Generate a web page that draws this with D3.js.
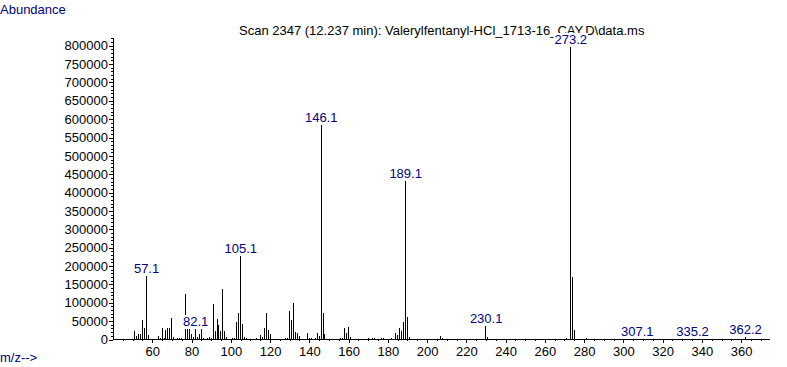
<!DOCTYPE html>
<html>
<head>
<meta charset="utf-8">
<script src="https://cdn.jsdelivr.net/npm/d3@7"></script>
<style>
  html, body { margin: 0; padding: 0; background: #fff; }
  svg { display: block; }
  text { font-family: "Liberation Sans", Arial, sans-serif; }
</style>
</head>
<body>
<svg id="chart" width="787" height="367"></svg>
<script>
// ---- data ----
const mzValues = [51,52,53,54,55,56,57,58,63,64,65,66,67,68,69,70,71,73,74,75,
  77,78,79,80,81,82,83,84,85,86,88,89,90,91,92,93,94,95,96,97,98,
  101,102,103,104,105,106,107,108,113,115,116,117,118,119,120,
  128,129,130,131,132,133,134,135,139,140,141,143,144,145,146,147,148,
  156,157,158,159,160,161,170,172,173,177,178,182,184,185,186,187,188,189,190,191,
  207,208,230,231,261,271,273,274,275,281,307,335,362];
const abundanceValues = [22000,10000,15000,15000,53000,31000,173000,12000,9000,5000,31000,5000,26000,31000,31000,58000,6000,4000,4000,4000,
  123000,28000,28000,15000,8000,28000,8000,16000,28000,4000,4000,7000,4000,96000,22000,55000,39000,22000,137000,22000,8000,
  4000,4000,47000,72000,227000,42000,8000,4000,4000,12000,8000,31000,72000,26000,15000,
  4000,3000,77000,53000,99000,20000,17000,9000,17000,4000,4000,3000,17000,10000,584000,72000,14000,
  4000,4000,31000,17000,34000,6000,4000,5000,3000,3000,3000,4000,17000,13000,31000,22000,47000,431000,61000,8000,
  10000,4000,36000,8000,2000,3000,797000,169000,25000,3000,1500,1500,8000];
const peakLabels = ["57.1","82.1","105.1","146.1","189.1","230.1","273.2","307.1","335.2","362.2"];
const peakLabelMz = [57.1,82.1,105.1,146.1,189.1,230.1,273.2,307.1,335.2,362.2];
const peakLabelAbundance = [173000,28000,227000,584000,431000,36000,797000,1500,1500,8000];
const xMajorTicks = [60,80,100,120,140,160,180,200,220,240,260,280,300,320,340,360];
const yMajorTicks = [0,50000,100000,150000,200000,250000,300000,350000,400000,450000,500000,550000,600000,650000,700000,750000,800000];
const titleText = "Scan 2347 (12.237 min): Valerylfentanyl-HCl_1713-16_CAY.D\\data.ms";

// ---- drawing ----
const svg = d3.select("#chart");
const navy = "#000080";
const x = d3.scaleLinear().domain([40, 374.7]).range([113, 770]);
const y = d3.scaleLinear().domain([0, 821000]).range([339.5, 38]);
const px = v => Math.floor(x(v)) + 0.5;

// bars
svg.append("g").selectAll("line").data(mzValues).join("line")
  .attr("x1", d => px(d)).attr("x2", d => px(d))
  .attr("y1", y(0)).attr("y2", (d, i) => Math.round(y(abundanceValues[i])))
  .attr("stroke", "#000").attr("stroke-width", 1).attr("shape-rendering", "crispEdges");

// y axis
const yMinor = d3.range(0, 820001, 10000);
const gy = svg.append("g").attr("transform", "translate(113,0)");
gy.call(d3.axisLeft(y).tickValues(yMinor).tickSize(2).tickFormat("").tickSizeOuter(0));
gy.call(g => g.select(".domain").remove());
const gy2 = svg.append("g").attr("transform", "translate(113,0)");
gy2.call(d3.axisLeft(y).tickValues(yMajorTicks).tickSize(4).tickPadding(1).tickFormat(d3.format("d")).tickSizeOuter(0));
gy2.select(".domain").remove();
svg.selectAll("g.tick line").attr("shape-rendering", "crispEdges");
svg.append("line").attr("x1", 113.5).attr("x2", 113.5).attr("y1", 38).attr("y2", 340)
  .attr("stroke", "#000").attr("shape-rendering", "crispEdges");

// x axis
const xMinor = d3.range(45, 374, 5);
const gx = svg.append("g").attr("transform", "translate(0,339)");
gx.call(d3.axisBottom(x).tickValues(xMinor).tickSize(2).tickFormat("").tickSizeOuter(0));
gx.select(".domain").remove();
const gx2 = svg.append("g").attr("transform", "translate(0,339)");
gx2.call(d3.axisBottom(x).tickValues(xMajorTicks).tickSize(4).tickPadding(4).tickSizeOuter(0));
gx2.select(".domain").remove();
svg.append("line").attr("x1", 113).attr("x2", 770).attr("y1", 339.5).attr("y2", 339.5)
  .attr("stroke", "#000").attr("shape-rendering", "crispEdges");
svg.selectAll("g.tick line").attr("shape-rendering", "crispEdges");
svg.selectAll("g.tick text").attr("font-size", 13).attr("font-family", "'Liberation Sans', Arial, sans-serif").attr("fill", "#000");

// texts
svg.append("text").attr("x", 0).attr("y", 14).attr("fill", navy).attr("font-size", 13).text("Abundance");
svg.append("text").attr("x", 0).attr("y", 362).attr("fill", navy).attr("font-size", 13).text("m/z-->");
svg.append("text").attr("x", 239).attr("y", 35).attr("fill", "#000").attr("font-size", 13).text(titleText);

// peak labels with white boxes
const lg = svg.append("g");
peakLabels.forEach((t, i) => {
  const cx = x(peakLabelMz[i]);
  const base = Math.round(y(peakLabelAbundance[i])) - 3;
  const g = lg.append("g");
  const rect = g.append("rect").attr("fill", "#fff");
  const txt = g.append("text").attr("x", cx).attr("y", base).attr("text-anchor", "middle")
    .attr("fill", navy).attr("font-size", 13).text(t);
  const bb = txt.node().getBBox();
  rect.attr("x", bb.x - 1).attr("y", bb.y + 1).attr("width", bb.width + 2).attr("height", bb.height - 1);
});
</script>
</body>
</html>
